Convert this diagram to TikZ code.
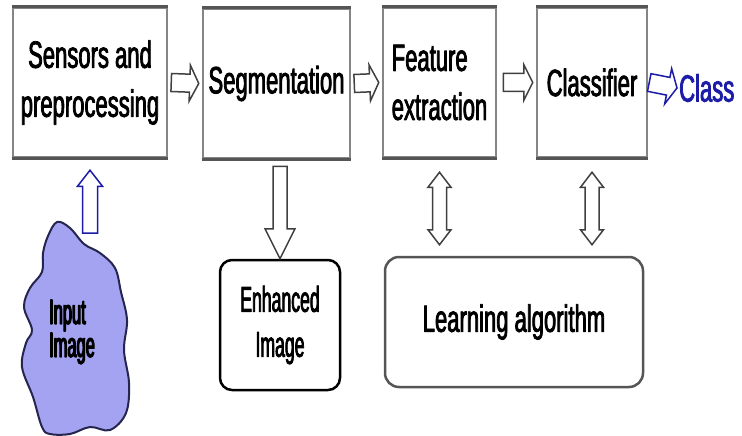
\documentclass[tikz,border=0pt]{standalone}
\usepackage{fontspec}
\setmainfont{Liberation Sans}[FakeStretch=0.58, FakeBold=2]
\newfontfamily\narrowfont{Liberation Sans}[FakeStretch=0.49, FakeBold=2]
\newfontfamily\blobfont{Liberation Sans}[FakeStretch=0.47, FakeBold=3.5]
\usetikzlibrary{calc}
\definecolor{blobfill}{HTML}{A3A3F2}
\definecolor{blobline}{HTML}{25254F}
\definecolor{classblue}{HTML}{1C1CA8}
\definecolor{boxgray}{HTML}{858585}
\definecolor{rimgray}{HTML}{555555}
\tikzset{
	stage/.style={draw=boxgray, line width=2.5pt, fill=white, inner sep=0pt, minimum height=149pt, align=center, font=\fontsize{38}{49}\selectfont},
	rim/.style={draw=rimgray, line width=3.5pt},
	result/.style={draw=#1, line width=2.5pt, fill=white, rounded corners=12pt, inner sep=0pt, minimum height=130pt, align=center},
	fatline/.style={draw=#1, line width=1.5pt, fill=white, line join=miter},
	fat/.style args={#1/#2/#3}{to path={
			($(\tikztotarget)!#3!(\tikztostart)$) coordinate (hb)
			($(\tikztostart)!#1!90:(\tikztotarget)$) -- ($(hb)!#1!90:(\tikztotarget)$)
			-- ($(hb)!#2!90:(\tikztotarget)$) -- (\tikztotarget)
			-- ($(hb)!#2!-90:(\tikztotarget)$) -- ($(hb)!#1!-90:(\tikztotarget)$)
			-- ($(\tikztostart)!#1!-90:(\tikztotarget)$) -- cycle}},
	fatboth/.style args={#1/#2/#3}{to path={
			($(\tikztostart)!#3!(\tikztotarget)$) coordinate (hs)
			($(\tikztotarget)!#3!(\tikztostart)$) coordinate (ht)
			(\tikztostart) -- ($(hs)!#2!90:(\tikztotarget)$) -- ($(hs)!#1!90:(\tikztotarget)$)
			-- ($(ht)!#1!90:(\tikztotarget)$) -- ($(ht)!#2!90:(\tikztotarget)$) -- (\tikztotarget)
			-- ($(ht)!#2!-90:(\tikztotarget)$) -- ($(ht)!#1!-90:(\tikztotarget)$)
			-- ($(hs)!#1!-90:(\tikztotarget)$) -- ($(hs)!#2!-90:(\tikztotarget)$) -- cycle}}
}
\begin{document}
\begin{tikzpicture}[x=1pt, y=-1pt, line join=round]
	\useasboundingbox[fill=white] (0,0) rectangle (742,436);
	\node[stage, minimum width=154pt] (sensors) at (90,82.5) {Sensors and\\preprocessing};
	\node[stage, minimum width=147pt] (seg) at (276.5,83.5) {Segmentation};
	\node[stage, minimum width=113pt, align=left] (feat) at (439.5,82.5) {Feature\\extraction};
	\node[stage, minimum width=110pt] (classif) at (592,82.5) {Classifier};
	\foreach \b in {sensors,seg,feat,classif}
	\draw[rim] (\b.north west) -- (\b.north east) (\b.south west) -- (\b.south east);
	\node[text=classblue, font=\fontsize{38}{49}\selectfont, anchor=west, inner sep=0pt] (cls) at (679,88) {Class};
	\node[result=black, minimum width=120pt, font=\narrowfont\fontsize{36}{45}\selectfont] (enh) at (280,325) {Enhanced\\Image};
	\node[result=rimgray, minimum width=258pt, rounded corners=14pt, font=\fontsize{38}{49}\selectfont] (learn) at (514,322) {Learning algorithm};
	\draw[line width=2pt, draw=blobline, fill=blobfill] plot[smooth cycle, tension=0.6] coordinates {
		(57,222) (70,228) (84,244) (100,253) (115,268) (121,292) (127,320) (124,350) (129,383)
		(126,413) (110,430) (90,427) (70,434) (50,434) (42,427) (33,397) (22,367) (26,343)
		(32,330) (24,307) (30,288) (42,272) (43,253) (48,236)};
	\node[align=left, inner sep=0pt, font=\blobfont\fontsize{35}{33}\selectfont] (input) at (72,332) {Input\\Image};
	\coordinate (blobtop) at (90,233);
	\draw[fatline=black!75, fat=9pt/18pt/9pt] ([xshift=3pt]sensors.east) to ([xshift=-3pt]seg.west);
	\draw[fatline=black!75, fat=9pt/18pt/9pt] ([xshift=3pt]seg.east) to ([xshift=-3pt]feat.west);
	\draw[fatline=black!75, fat=9pt/18pt/9pt] ([xshift=6pt]feat.east) to ([xshift=-3pt]classif.west);
	\draw[fatline=classblue, fat=9pt/18pt/9pt] ([xshift=1pt]classif.east) to ([xshift=-2pt]cls.west);
	\draw[fatline=classblue, fat=7.5pt/12.5pt/16pt] (blobtop) to ([yshift=-12pt]sensors.south);
	\draw[fatline=black!75, fat=7pt/15pt/30pt] ([yshift=-7pt]enh.north |- seg.south) to (enh.north);
	\draw[fatline=black!75, fatboth=7pt/11.5pt/15pt] ([yshift=-14pt]feat.south) to ([yshift=11pt]feat.south |- learn.north);
	\draw[fatline=black!75, fatboth=7pt/11.5pt/15pt] ([yshift=-14pt]classif.south) to ([yshift=11pt]classif.south |- learn.north);
\end{tikzpicture}
\end{document}
